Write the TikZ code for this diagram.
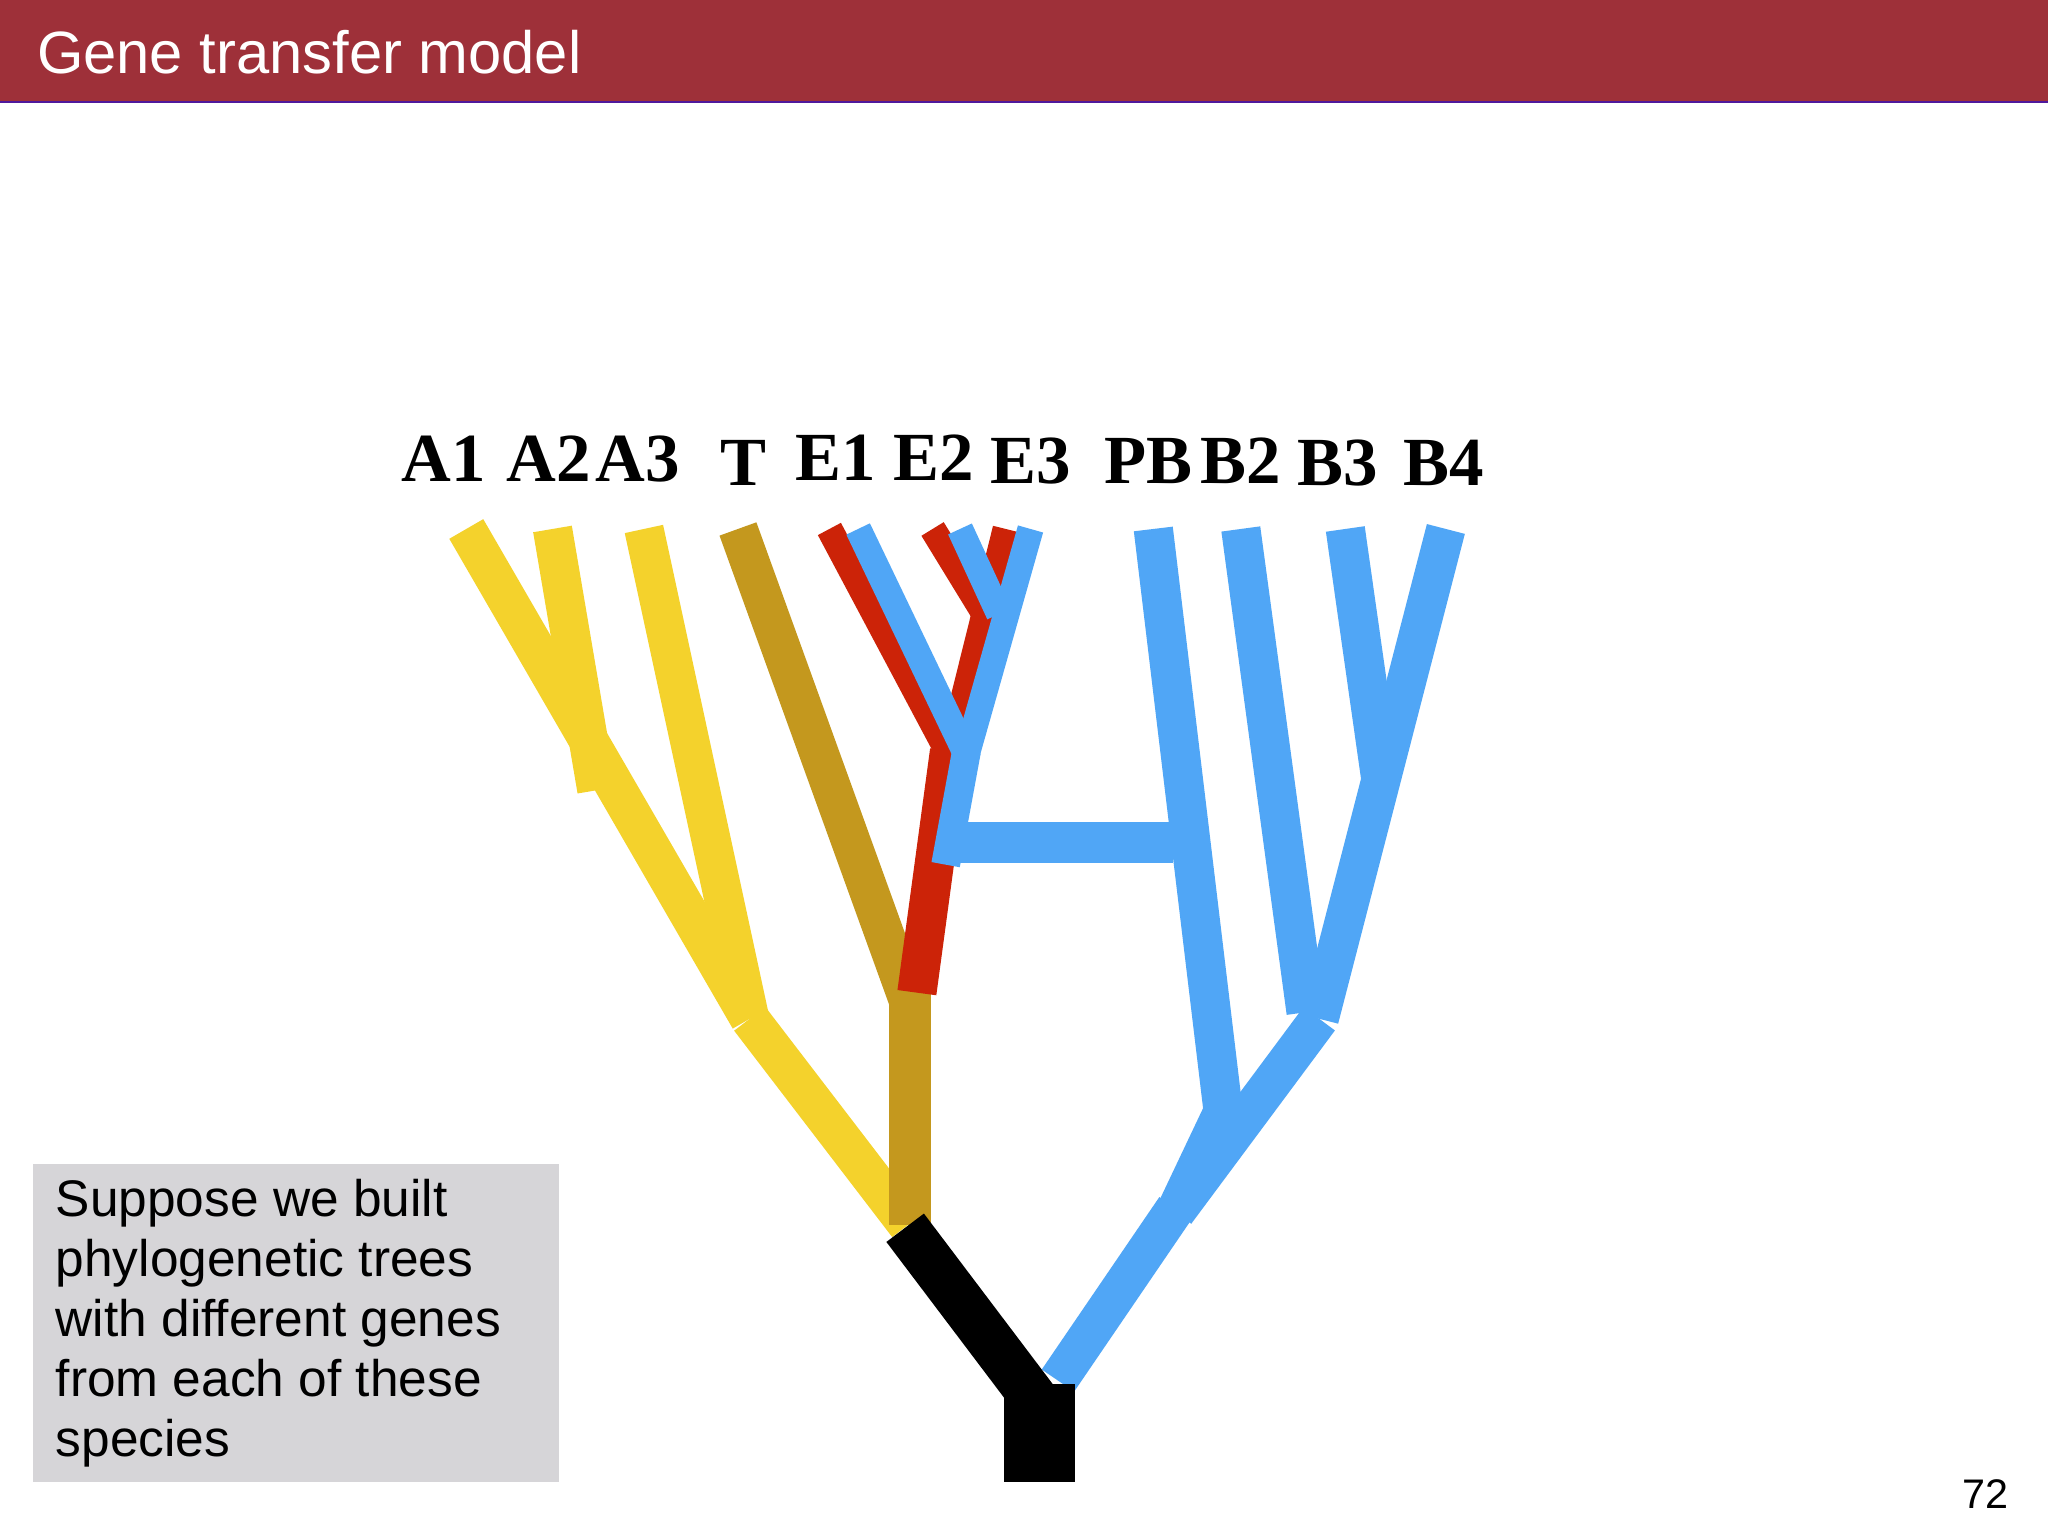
\documentclass[tikz,border=0pt]{standalone}
\usepackage{fontspec}
\setmainfont{Liberation Sans}
\newfontfamily\serifb{Liberation Serif}
\definecolor{hdr}{HTML}{9E3039}
\definecolor{yel}{HTML}{F4D22C}
\definecolor{och}{HTML}{C4981E}
\definecolor{rd}{HTML}{CC2308}
\definecolor{bl}{HTML}{50A6F6}
\definecolor{gbox}{HTML}{D6D5D8}
\begin{document}
\begin{tikzpicture}[x=0.01cm,y=-0.01cm,
  br/.style={line width=0.3cm},
  lab/.style={font=\serifb\bfseries\fontsize{15}{15}\selectfont,anchor=base}]
\useasboundingbox (0,0) rectangle (1568,1176);
\fill[white] (0,0) rectangle (1568,1176);
\fill[hdr] (0,0) rectangle (1568,78);
\draw[blue!50!hdr,line width=0.5pt] (0,78) -- (1568,78);
\node[anchor=west,text=white,font=\fontsize{13}{13}\selectfont] (title) at (16,40) {Gene transfer model};
% yellow
\draw[br,yel] (357,405) -- (574,780);
\draw[br,yel] (423,405) -- (457,605);
\draw[br,yel] (493,405) -- (574,780);
\draw[br,yel] (574,780) -- (695,938);
% ochre
\draw[br,och] (565,405) -- (697,770);
\draw[line width=0.32cm,och] (697,760) -- (697,938);
% red
\draw[line width=0.2cm,rd] (635,405) -- (727,578);
\draw[line width=0.2cm,rd] (714,405) -- (763,485);
\draw[line width=0.2cm,rd] (770,405) -- (727,578);
\draw[br,rd] (727,575) -- (702,760);
% blue E
\draw[line width=0.2cm,bl] (657,405) -- (740,578);
\draw[line width=0.2cm,bl] (735,405) -- (765,470);
\draw[line width=0.2cm,bl] (789,405) -- (740,578);
\draw[line width=0.22cm,bl] (740,575) -- (724,662);
\draw[line width=0.32cm,bl] (724,645) -- (898,645);
% blue B
\draw[br,bl] (883,405) -- (937,855);
\draw[br,bl] (950,405) -- (1000,775);
\draw[br,bl] (1030,405) -- (1057,595);
\draw[br,bl] (1107,405) -- (1010,780);
\draw[br,bl] (1010,780) -- (900,928);
\draw[br,bl] (937,850) -- (900,928);
\draw[br,bl] (900,925) -- (810,1057);
% black
\draw[line width=0.36cm,black] (693,940) -- (795,1075);
\fill[black] (769,1060) rectangle (823,1135);
% labels
\foreach \n/\x/\y in {A1/340/369,A2/420/369,A3/488/369,T/569/372,E1/640/368,E2/715/368,E3/789/370,PB/879/370,B2/950/370,B3/1024/372,B4/1105/372}
  \node[lab] (l\n) at (\x,\y) {\n};
\fill[gbox] (25,891) rectangle (428,1135);
\node[anchor=north west,align=left,font=\fontsize{11.2}{13.1}\selectfont,inner sep=0pt] (txt) at (42,902)
 {Suppose we built\\phylogenetic trees\\with different genes\\from each of these\\species};
\node[anchor=base east,font=\fontsize{9}{9}\selectfont] (pg) at (1550,1155) {72};
\end{tikzpicture}
\end{document}
